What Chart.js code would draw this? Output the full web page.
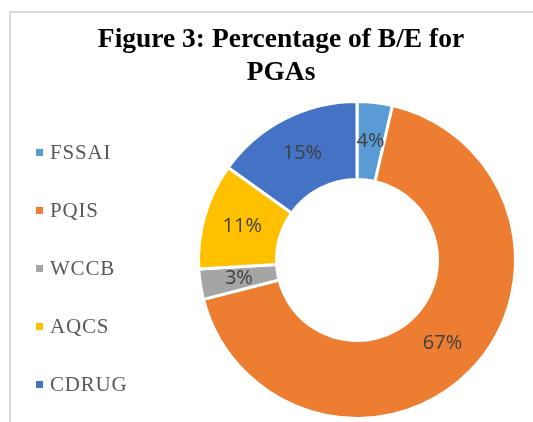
<!DOCTYPE html>
<html>
<head>
<meta charset="utf-8">
<script src="https://cdn.jsdelivr.net/npm/chart.js@4/dist/chart.umd.min.js"></script>
<style>
  html, body { margin: 0; padding: 0; background: #fff; }
  canvas { display: block; }
</style>
</head>
<body>
<canvas id="pgaChart" width="533" height="422"></canvas>
<script>
// Data
const agencies = ['FSSAI', 'PQIS', 'WCCB', 'AQCS', 'CDRUG'];
const shares = [3.6, 67.4, 3.1, 10.8, 15.1];
const sliceColors = ['#5B9BD5', '#ED7D31', '#A5A5A5', '#FFC000', '#4472C4'];
const titleLines = ['Figure 3: Percentage of B/E for', 'PGAs'];

// Frame around the chart (like the spreadsheet chart border)
const framePlugin = {
    id: 'frame',
    beforeDraw(chart) {
        const ctx = chart.ctx;
        ctx.save();
        ctx.fillStyle = '#d9d9d9';
        ctx.fillRect(9, 11, chart.width - 9, 2);
        ctx.fillRect(9, 11, 2, chart.height - 11);
        ctx.restore();
    }
};

// Left legend as a layout box so the title stays centred above everything
const sideLegend = {
    id: 'sideLegend',
    beforeInit(chart) {
        const box = {
            position: 'left',
            weight: 1000,
            fullSize: false,
            options: {},
            update(maxWidth, maxHeight) {
                this.width = 152;
                this.height = maxHeight;
            },
            isHorizontal() { return false; },
            draw() {
                const ctx = chart.ctx;
                const ds = chart.data.datasets[0];
                const gap = 58;
                const mid = (this.top + this.bottom) / 2 + 8.5;
                const first = mid - gap * (chart.data.labels.length - 1) / 2;
                ctx.save();
                ctx.font = '21px "Liberation Serif", serif';
                ctx.letterSpacing = '0.8px';
                ctx.textBaseline = 'middle';
                ctx.textAlign = 'left';
                chart.data.labels.forEach((label, i) => {
                    const y = first + i * gap;
                    ctx.fillStyle = ds.backgroundColor[i];
                    ctx.fillRect(this.left + 7, y - 3.5, 7, 7);
                    ctx.fillStyle = '#595959';
                    ctx.fillText(label, this.left + 21, y + 1);
                });
                ctx.restore();
            }
        };
        Chart.layouts.addBox(chart, box);
    }
};

// Percent labels in the middle of each ring segment
const sliceLabels = {
    id: 'sliceLabels',
    afterDatasetsDraw(chart) {
        const ctx = chart.ctx;
        const meta = chart.getDatasetMeta(0);
        const values = chart.data.datasets[0].data;
        ctx.save();
        ctx.font = '20px "Open Sans", sans-serif';
        ctx.fillStyle = '#404040';
        ctx.textAlign = 'center';
        ctx.textBaseline = 'middle';
        meta.data.forEach((arc, i) => {
            const pos = arc.tooltipPosition();
            ctx.fillText(Math.round(values[i]) + '%', pos.x, pos.y);
        });
        ctx.restore();
    }
};

const ctx = document.getElementById('pgaChart').getContext('2d');
const pgaChart = new Chart(ctx, {
    type: 'doughnut',
    data: {
        labels: agencies,
        datasets: [{
            data: shares,
            backgroundColor: sliceColors,
            borderColor: '#ffffff',
            borderWidth: 3,
            radius: 158.5,
            cutout: '50.8%'
        }]
    },
    options: {
        responsive: false,
        animation: false,
        layout: {
            padding: { top: 0, right: 0, bottom: 2, left: 29 }
        },
        plugins: {
            legend: { display: false },
            tooltip: { enabled: false },
            title: {
                display: true,
                text: titleLines,
                color: '#000000',
                font: {
                    family: '"Liberation Serif", serif',
                    size: 27.5,
                    weight: 'bold',
                    lineHeight: 1.18
                },
                padding: { top: 24, bottom: 11 }
            }
        }
    },
    plugins: [framePlugin, sideLegend, sliceLabels]
});
</script>
</body>
</html>
